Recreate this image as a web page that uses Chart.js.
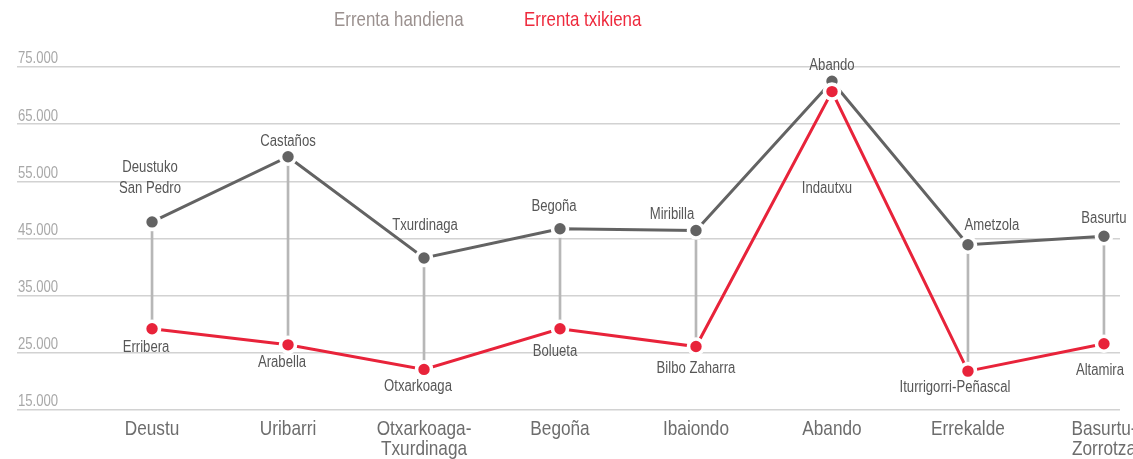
<!DOCTYPE html>
<html>
<head>
<meta charset="utf-8">
<script src="https://cdn.jsdelivr.net/npm/chart.js@4"></script>
<style>
  html, body { margin: 0; padding: 0; overflow: hidden; background: #fff; }
  #wrap { width: 1160px; height: 459px; }
</style>
</head>
<body>
<div id="wrap"><canvas id="chart"></canvas></div>
<script>
// barrutiak eta errentak
const categories = ["Deustu", "Uribarri", "Otxarkoaga-Txurdinaga", "Begoña", "Ibaiondo", "Abando", "Errekalde", "Basurtu-Zorrotza"];
const maxIncome = [47900, 59300, 41600, 46700, 46400, 72500, 43900, 45400];
const minIncome = [29200, 26400, 22100, 29200, 26100, 70700, 21800, 26600];
const maxNames = ["Deustuko\nSan Pedro", "Castaños", "Txurdinaga", "Begoña", "Miribilla", "Abando", "Ametzola", "Basurtu"];
const minNames = ["Erribera", "Arabella", "Otxarkoaga", "Bolueta", "Bilbo Zaharra", "Indautxu", "Iturrigorri-Peñascal", "Altamira"];
const yTicks = [15000, 25000, 35000, 45000, 55000, 65000, 75000];
const seriesNames = ["Errenta handiena", "Errenta txikiena"];

const FONT = "'Liberation Sans', Arial, sans-serif";
const NARROW = 0.82; // arial narrow look
const GRAY = "#636363";
const RED = "#e8233a";

// label position relative to its point (text centre)
const maxOffsets = [[-2, -44], [0, -15], [1, -32], [-6, -22], [-24, -16], [0, -16], [24, -19], [0, -18]];
const minOffsets = [[-6, 18.5], [-6, 18], [-6, 17], [-5, 23], [0, 22], [-5, 97], [-13, 16], [-4, 27]];

const splitLabel = (name) => {
  const i = name.indexOf("-");
  return i > 0 && i < name.length - 1 ? [name.slice(0, i + 1), name.slice(i + 1)] : [name];
};

const narrowText = (ctx, text, x, y, size, color, align) => {
  ctx.save();
  ctx.translate(x, y);
  ctx.scale(NARROW, 1);
  ctx.font = size + "px " + FONT;
  ctx.fillStyle = color;
  ctx.textAlign = align || "center";
  ctx.textBaseline = "middle";
  ctx.fillText(text, 0, 0);
  ctx.restore();
};

const axisLabels = {
  id: "axisLabels",
  afterDraw(chart) {
    const ctx = chart.ctx;
    const xs = chart.scales.x;
    const ys = chart.scales.y;
    xs.ticks.forEach((t, i) => {
      const x = xs.getPixelForTick(i);
      splitLabel(categories[t.value]).forEach((line, k) => {
        narrowText(ctx, line, x, chart.chartArea.bottom + 19 + k * 20, 21, "#6d6d6d");
      });
    });
    ys.ticks.forEach((t, i) => {
      const y = ys.getPixelForTick(i);
      narrowText(ctx, t.label, chart.chartArea.left + 1, y - 8, 16, "#a8a8a8", "left");
    });
  },
};

const pointLabels = {
  id: "pointLabels",
  afterDatasetsDraw(chart) {
    const ctx = chart.ctx;
    [[1, maxNames, maxOffsets], [2, minNames, minOffsets]].forEach(([di, names, offs]) => {
      chart.getDatasetMeta(di).data.forEach((pt, i) => {
        const lines = names[i].split("\n");
        const [dx, dy] = offs[i];
        lines.forEach((line, k) => {
          narrowText(ctx, line, pt.x + dx, pt.y + dy + (k - (lines.length - 1) / 2) * 21, 16, "#575757");
        });
      });
    });
  },
};

const legendText = {
  id: "legendText",
  afterDraw(chart) {
    const xs = [334, 524];
    const colors = ["#9b918f", "#ee2a3d"];
    chart.data.datasets.slice(1).forEach((ds, i) => {
      narrowText(chart.ctx, ds.label, xs[i], 20.5, 20.6, colors[i], "left");
    });
  },
};

const lineSet = (label, values, color, order) => ({
  label: label,
  data: categories.map((c, i) => ({ x: i, y: values[i] })),
  borderColor: color,
  backgroundColor: color,
  borderWidth: 3,
  pointRadius: 7.5,
  pointBorderWidth: 3.6,
  pointBorderColor: "#fff",
  pointBackgroundColor: color,
  tension: 0,
  clip: false,
  order: order,
});

new Chart(document.getElementById("chart"), {
  type: "line",
  data: {
    datasets: [
      {
        type: "bar",
        label: "tartea",
        data: categories.map((c, i) => ({ x: i, y: [minIncome[i], maxIncome[i]] })),
        backgroundColor: "#b7b7b7",
        barThickness: 2,
        order: 3,
      },
      lineSet(seriesNames[0], maxIncome, GRAY, 2),
      lineSet(seriesNames[1], minIncome, RED, 1),
    ],
  },
  options: {
    responsive: true,
    maintainAspectRatio: false,
    animation: false,
    events: [],
    layout: { padding: { left: 17, right: 40, top: 67, bottom: 49 } },
    plugins: {
      legend: { display: false },
      tooltip: { enabled: false },
    },
    scales: {
      x: {
        type: "linear",
        min: -0.993,
        max: 7.118,
        offset: false,
        grid: { display: false, drawTicks: false },
        border: { display: false },
        afterBuildTicks: (s) => {
          s.ticks = categories.map((c, i) => ({ value: i }));
        },
        ticks: { display: false },
      },
      y: {
        min: yTicks[0],
        max: yTicks[yTicks.length - 1],
        afterBuildTicks: (s) => {
          s.ticks = yTicks.map((v) => ({ value: v }));
        },
        grid: { color: "#d2d2d2", lineWidth: 1.5, drawTicks: false },
        border: { display: false },
        ticks: {
          display: false,
          callback: (v) => v.toLocaleString("de-DE"),
        },
      },
    },
  },
  plugins: [axisLabels, pointLabels, legendText],
});
</script>
</body>
</html>
